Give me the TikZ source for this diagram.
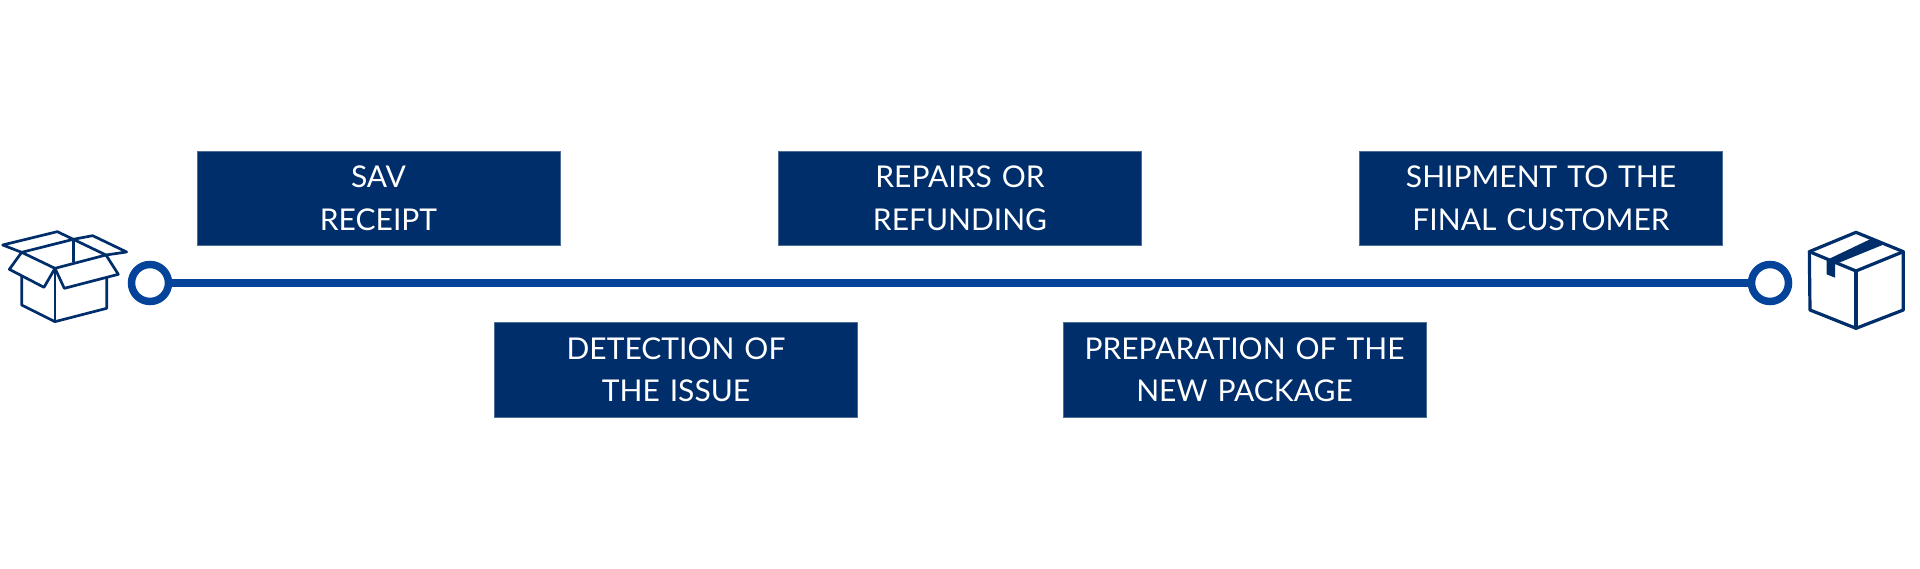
\documentclass[tikz,border=0pt]{standalone}
\usepackage{fontspec}
\setmainfont{Lato}
\definecolor{boxBlue}{HTML}{002E6B}
\definecolor{lineBlue}{HTML}{03439A}
\tikzstyle{myBox} = [rectangle, fill=boxBlue, draw=boxBlue!70!white, line width=.5pt, text=white, text centered, text width=363pt, minimum width=363pt, minimum height=94.5pt, inner sep=0pt, font=\fontsize{30}{42.5}\selectfont]
\tikzstyle{myDot} = [circle, draw=lineBlue, line width=7.5pt, fill=white, minimum size=37pt, inner sep=0pt]
\tikzstyle{myIcon} = [draw=boxBlue, line width=2.7pt, line join=round, line cap=round]

\begin{document}
\begin{tikzpicture}[x=1pt,y=-1pt]
	\useasboundingbox (0,0) rectangle (1920,569);
		\node [myBox](b1) at (378.5,198.5){SAV\\RECEIPT};
		\node [myBox](b2) at (676,370){DETECTION OF\\THE ISSUE};
		\node [myBox](b3) at (960,198.5){REPAIRS OR\\REFUNDING};
		\node [myBox](b4) at (1244.5,370){PREPARATION OF THE\\NEW PACKAGE};
		\node [myBox](b5) at (1541,198.5){SHIPMENT TO THE\\FINAL CUSTOMER};

		\node [myDot](d1) at (150,283){};
		\node [myDot](d2) at (1770,283){};
		\draw [lineBlue,line width=7.5pt] (d1) -- (d2);

		% open box
		\begin{scope}[shift={(0,210)},x=.3333pt,y=-.3333pt]
			\draw [myIcon] (65,127) -- (8,105) -- (172,65) -- (220,88);
			\draw [myIcon] (220,88) -- (278,77) -- (380,126) -- (318,135);
			\draw [myIcon] (65,127) -- (165,175) -- (318,135) -- (220,88) -- cycle;
			\draw [myIcon] (220,88) -- (220,155);
			\draw [myIcon] (65,127) -- (28,178) -- (132,232) -- (165,175);
			\draw [myIcon] (165,175) -- (193,235) -- (355,193) -- (318,135);
			\draw [myIcon] (65,197) -- (65,285) -- (165,335) -- (320,295) -- (320,205);
			\draw [myIcon] (165,175) -- (165,335);
		\end{scope}

		% closed box
		\begin{scope}[shift={(1720,210)},x=.3333pt,y=-.3333pt]
			\draw [myIcon,line width=3.2pt] (408,67) -- (550,125) -- (550,300) -- (408,355) -- (270,300) -- (268,125) -- cycle;
			\draw [myIcon,line width=3.2pt] (268,125) -- (408,183) -- (550,125);
			\draw [myIcon,line width=3.2pt] (408,183) -- (408,355);
			\fill [boxBlue] (450,88) -- (490,104) -- (345,163) -- (345,203) -- (320,193) -- (320,150) -- cycle;
		\end{scope}

\end{tikzpicture}
\end{document}
